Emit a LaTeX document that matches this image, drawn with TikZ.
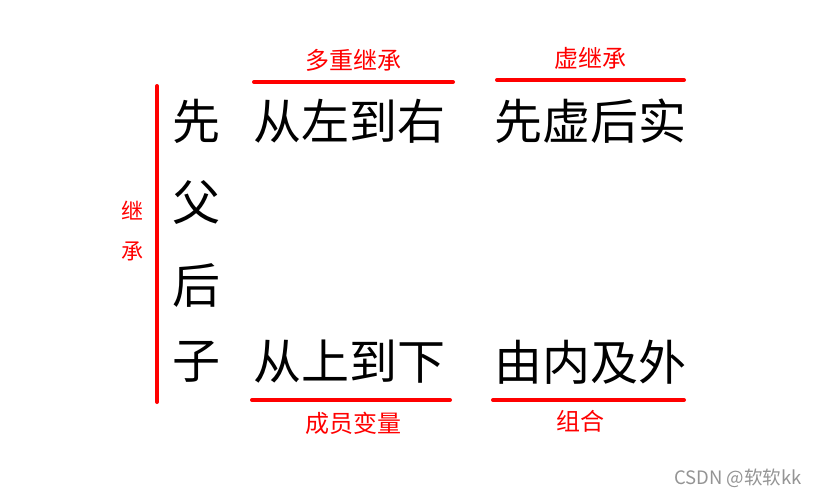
\documentclass[tikz,border=0pt]{standalone}
\usepackage{fontspec}
\newfontfamily\cjk{Noto Sans CJK SC}
\usetikzlibrary{positioning}

\begin{document}
\begin{tikzpicture}[x=1pt,y=-1pt]

		% Setup the styles
		\tikzset{big style/.style={font=\cjk\fontsize{48}{48}\selectfont, inner sep=0pt},
				tag style/.style={font=\cjk\fontsize{24}{24}\selectfont, text=red, inner sep=0pt},
				bar style/.style={draw=red, line width=4pt, line cap=round}}

		\useasboundingbox (0,0) rectangle (820,496);

		% Draw the left column
		\node[big style] at (196, 121) (xian) {先};
		\node[big style] at (196, 202) (fu)   {父};
		\node[big style] at (196, 285) (hou)  {后};
		\node[big style] at (196, 362) (zi)   {子};

		% Draw the order texts
		\node[big style] at (349, 121) (multi)   {从左到右};
		\node[big style] at (590, 121) (virtual) {先虚后实};
		\node[big style] at (349, 362) (member)  {从上到下};
		\node[big style] at (590, 362) (compose) {由内及外};

		% Draw the red tags
		\node[tag style] at (353, 60)  (multitag)   {多重继承};
		\node[tag style] at (590, 58)  (virtualtag) {虚继承};
		\node[tag style] at (353, 423) (membertag)  {成员变量};
		\node[tag style] at (580, 421) (composetag) {组合};
		\node[tag style, font=\cjk\fontsize{22}{22}\selectfont] at (132, 211) (ji)    {继};
		\node[tag style, font=\cjk\fontsize{22}{22}\selectfont] at (132, 251) (cheng) {承};

		% Draw the red bars
		\draw[bar style] (157, 86)  -- (157, 402);
		\draw[bar style] (254, 82)  -- (453, 82);
		\draw[bar style] (497, 80)  -- (684, 80);
		\draw[bar style] (252, 400) -- (450, 400);
		\draw[bar style] (493, 400) -- (684, 400);

		% Watermark
		\node[font=\cjk\fontsize{18.5}{18.5}\selectfont, text=black!42, inner sep=0pt] at (738, 478) (mark) {CSDN @软软kk};
\end{tikzpicture}
\end{document}
